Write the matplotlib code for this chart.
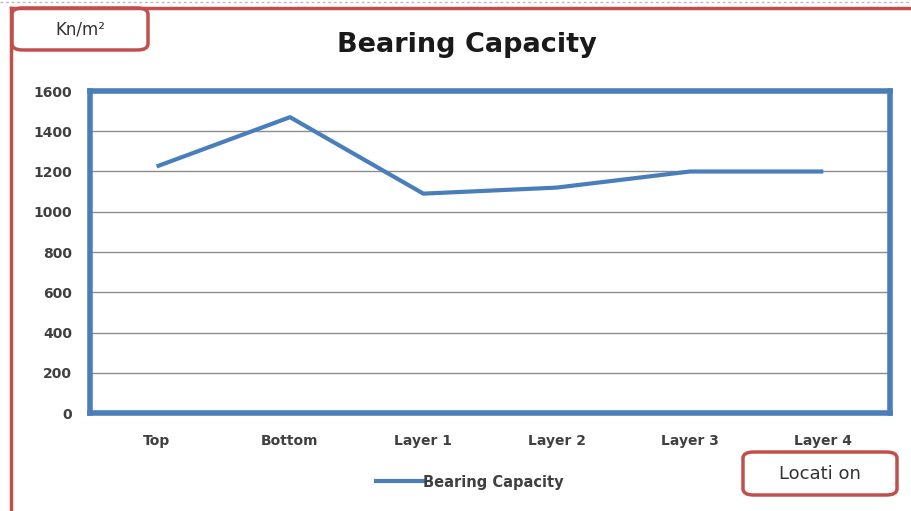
import matplotlib
matplotlib.use("Agg")
import matplotlib.pyplot as plt
from matplotlib.patches import FancyBboxPatch
from matplotlib.lines import Line2D

categories = ["Top", "Bottom", "Layer 1", "Layer 2", "Layer 3", "Layer 4"]
values = [1225, 1470, 1090, 1120, 1200, 1200]
yticks = [0, 200, 400, 600, 800, 1000, 1200, 1400, 1600]

plt.rcParams['font.family'] = ['DejaVu Sans']
BLUE = "#4A7EBB"
RED = "#C0504D"

fig = plt.figure(figsize=(9.12, 5.11), dpi=100)
W, H = 912, 511

def fx(px):
    return px / W

def fy(py):
    return 1 - py / H

ax = fig.add_axes([fx(90), fy(413), fx(890) - fx(90), fy(91) - fy(413)])
x = list(range(len(categories)))
ax.plot(x, values, color=BLUE, lw=3.0, solid_capstyle='butt', label="Bearing Capacity", zorder=3)
ax.set_xlim(-0.5, len(categories) - 0.5)
ax.set_ylim(0, 1600)
ax.set_yticks(yticks)
ax.set_yticklabels([str(v) for v in yticks])
ax.set_xticks(x)
ax.set_xticklabels(categories)
ax.yaxis.grid(True, color="#8c8c8c", lw=1.0)
ax.set_axisbelow(True)
for s in ax.spines.values():
    s.set_color(BLUE)
    s.set_linewidth(4)
ax.tick_params(axis='both', length=0, labelsize=10, colors="#404040")
for lab in ax.get_xticklabels() + ax.get_yticklabels():
    lab.set_fontweight('bold')
ax.tick_params(axis='x', pad=15)
ax.tick_params(axis='y', pad=13)

fig.text(fx(467), fy(45), "Bearing Capacity", ha='center', va='center',
         fontsize=19.5, fontweight='bold', color="#1a1a1a")

# outer red frame
fig.add_artist(Line2D([fx(11), fx(11)], [fy(8), fy(511)], color=RED, lw=2.5))
fig.add_artist(Line2D([fx(11), fx(912)], [fy(8), fy(8)], color=RED, lw=2.5))
fig.add_artist(Line2D([0, 1], [fy(2), fy(2)], color="#bbbbbb", lw=1, ls=(0, (2, 2))))

# rounded label boxes
def rbox(x0, y0, x1, y1, text, fs):
    p = FancyBboxPatch((fx(x0), fy(y1)), fx(x1) - fx(x0), fy(y0) - fy(y1),
                       boxstyle="round,pad=0,rounding_size=0.012",
                       transform=fig.transFigure, fc="white", ec=RED, lw=2.5)
    fig.add_artist(p)
    fig.text((fx(x0) + fx(x1)) / 2, (fy(y0) + fy(y1)) / 2, text, ha='center', va='center',
             fontsize=fs, color="#333333")

rbox(12, 8, 148, 50, "Kn/m²", 12)
rbox(743, 452, 897, 495, "Locati on", 13)

leg = fig.legend(handles=[Line2D([], [], color=BLUE, lw=3.0)], labels=["Bearing Capacity"],
                 loc='center', bbox_to_anchor=(fx(470), fy(482)), frameon=False,
                 handlelength=3.2, handletextpad=0.0, fontsize=10.5)
for t in leg.get_texts():
    t.set_fontweight('bold')
    t.set_color("#404040")

fig.savefig("out.png", dpi=100)
